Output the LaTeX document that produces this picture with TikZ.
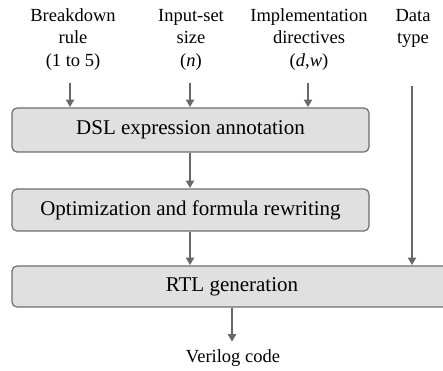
\documentclass[tikz,border=0pt]{standalone}
\usepackage{fontspec}
\setmainfont{Liberation Serif}
\usetikzlibrary{arrows.meta}
\definecolor{boxfill}{HTML}{E0E0E0}
\definecolor{boxline}{HTML}{6E6E6E}
\definecolor{arrcol}{HTML}{686868}
\tikzset{
  stage/.style={draw=boxline, line width=1.2pt, fill=boxfill, rounded corners=5pt,
    inner sep=0pt, font=\fontsize{21}{25}\selectfont},
  lbl/.style={align=center, inner sep=0pt, font=\fontsize{18.5}{22.5}\selectfont},
  arr/.style={draw=arrcol, line width=2pt, -{Triangle[length=7.5pt,width=8pt]}, shorten >=0.3pt},
}
\begin{document}
\begin{tikzpicture}[x=1pt,y=-1pt]
\clip (0,0) rectangle (443,370);
\fill[white] (0,0) rectangle (443,370);
\node[lbl] (l1) at (73,39.5) {Breakdown\\rule\\(1 to 5)};
\node[lbl] (l2) at (191,39.5) {Input-set\\size\\(\textit{n})};
\node[lbl] (l3) at (309,39.5) {Implementation\\directives\\(\textit{d},\textit{w})};
\node[lbl] (l4) at (413,28.5) {Data\\type};
\node[stage, minimum width=357pt, minimum height=44pt] (dsl) at (190.5,130) {DSL expression annotation};
\node[stage, minimum width=357pt, minimum height=42pt] (opt) at (190.5,210) {Optimization and formula rewriting};
\node[stage, minimum width=440pt, minimum height=41pt] (rtl) at (232,286.5) {RTL generation};
\node[lbl] (out) at (233,358) {Verilog code};
\coordinate (s1) at (70,83);
\coordinate (s2) at (190,83);
\coordinate (s3) at (308,83);
\coordinate (s4) at (412,86);
\coordinate (e5) at (232,342);
\draw[arr] (s1) -- (s1 |- dsl.north);
\draw[arr] (s2) -- (s2 |- dsl.north);
\draw[arr] (s3) -- (s3 |- dsl.north);
\draw[arr] (s4) -- (s4 |- rtl.north);
\draw[arr] (dsl.south -| s2) -- (opt.north -| s2);
\draw[arr] (opt.south -| s2) -- (rtl.north -| s2);
\draw[arr] (rtl.south -| e5) -- (e5);
\end{tikzpicture}
\end{document}
